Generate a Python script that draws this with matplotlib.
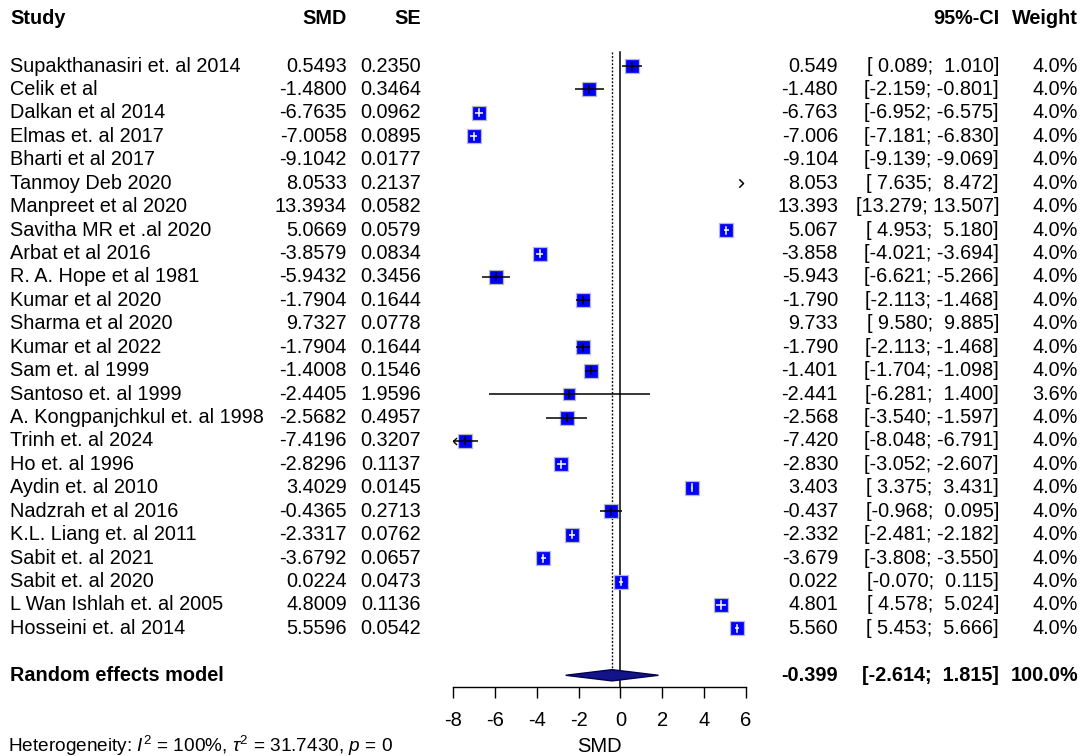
import matplotlib
matplotlib.use("Agg")
import matplotlib.pyplot as plt
import matplotlib.transforms as mtrans
from matplotlib.path import Path
import numpy as np

plt.rcParams['font.family'] = ['Liberation Sans', 'DejaVu Sans']
plt.rcParams['mathtext.fontset'] = 'custom'
plt.rcParams['mathtext.rm'] = 'Liberation Sans'
plt.rcParams['mathtext.it'] = 'Liberation Sans:italic'

studies = ["Supakthanasiri et. al 2014", "Celik et al", "Dalkan et al 2014", "Elmas et. al 2017",
           "Bharti et al 2017", "Tanmoy Deb 2020", "Manpreet et al 2020", "Savitha MR et .al 2020",
           "Arbat et al 2016", "R. A. Hope et al 1981", "Kumar et al 2020", "Sharma et al 2020",
           "Kumar et al 2022", "Sam et. al 1999", "Santoso et. al 1999", "A. Kongpanjchkul et. al 1998",
           "Trinh et. al 2024", "Ho et. al 1996", "Aydin et. al 2010", "Nadzrah et al 2016",
           "K.L. Liang et. al 2011", "Sabit et. al 2021", "Sabit et. al 2020", "L Wan Ishlah et. al 2005",
           "Hosseini et. al 2014"]
smd = [0.5493, -1.4800, -6.7635, -7.0058, -9.1042, 8.0533, 13.3934, 5.0669, -3.8579, -5.9432,
       -1.7904, 9.7327, -1.7904, -1.4008, -2.4405, -2.5682, -7.4196, -2.8296, 3.4029, -0.4365,
       -2.3317, -3.6792, 0.0224, 4.8009, 5.5596]
se = [0.2350, 0.3464, 0.0962, 0.0895, 0.0177, 0.2137, 0.0582, 0.0579, 0.0834, 0.3456,
      0.1644, 0.0778, 0.1644, 0.1546, 1.9596, 0.4957, 0.3207, 0.1137, 0.0145, 0.2713,
      0.0762, 0.0657, 0.0473, 0.1136, 0.0542]
est = [0.549, -1.480, -6.763, -7.006, -9.104, 8.053, 13.393, 5.067, -3.858, -5.943,
       -1.790, 9.733, -1.790, -1.401, -2.441, -2.568, -7.420, -2.830, 3.403, -0.437,
       -2.332, -3.679, 0.022, 4.801, 5.560]
ci_lo = [0.089, -2.159, -6.952, -7.181, -9.139, 7.635, 13.279, 4.953, -4.021, -6.621,
         -2.113, 9.580, -2.113, -1.704, -6.281, -3.540, -8.048, -3.052, 3.375, -0.968,
         -2.481, -3.808, -0.070, 4.578, 5.453]
ci_hi = [1.010, -0.801, -6.575, -6.830, -9.069, 8.472, 13.507, 5.180, -3.694, -5.266,
         -1.468, 9.885, -1.468, -1.098, 1.400, -1.597, -6.791, -2.607, 3.431, 0.095,
         -2.182, -3.550, 0.115, 5.024, 5.666]
weight = [4.0] * 14 + [3.6] + [4.0] * 10
arrow_right = ["Tanmoy Deb 2020"]

re_est, re_lo, re_hi, re_w = -0.399, -2.614, 1.815, 100.0
xticks = [-8, -6, -4, -2, 0, 2, 4, 6]
hetero = r"Heterogeneity: $I^2$ = 100%, $\tau^2$ = 31.7430, $p$ = 0"

W, H = 1085, 756
fig = plt.figure(figsize=(W / 100, H / 100), dpi=100)
ax = fig.add_axes([453 / W, (H - 687) / H, (746 - 453) / W, (687 - 52) / H])
ax.set_xlim(-8, 6)
ax.set_ylim(26.5, -0.6)
for s in ["top", "left", "right"]:
    ax.spines[s].set_visible(False)
ax.spines["bottom"].set_linewidth(1.0)
ax.set_yticks([])
ax.set_xticks(xticks)
ax.set_xticklabels([str(t) for t in xticks], fontsize=14.5)
ax.tick_params(axis="x", length=8, width=1.0, pad=9)
ax.set_xlabel("SMD", fontsize=14.5, labelpad=5)

n = len(studies)
rows = np.arange(n)
re_row = 26

# reference lines
ax.plot([0, 0], [-0.6, 26.5], color="black", lw=1.1, clip_on=False)
ax.plot([re_est, re_est], [-0.6, re_row - 0.25], color="black", lw=1.0, ls=(0, (1.3, 1.3)))

sq_side = 0.57  # box width in x units
chev = Path([(-1, 1), (0, 0), (-1, -1)], [Path.MOVETO, Path.LINETO, Path.LINETO])
chev_l = Path([(1, 1), (0, 0), (1, -1)], [Path.MOVETO, Path.LINETO, Path.LINETO])

for i in range(n):
    y = rows[i]
    lo, hi, e = ci_lo[i], ci_hi[i], est[i]
    inside = (hi - lo) < sq_side
    c = "white" if inside else "black"
    if hi > -8 and lo < 6:
        ax.plot([max(lo, -8), min(hi, 6)], [y, y], color=c, lw=1.1, zorder=4,
                solid_capstyle="butt")
        if lo < -8:
            ax.plot([-8], [y], marker=chev_l, ms=5, mfc="none", mec="black", mew=1.0,
                    clip_on=False, zorder=4)
    if studies[i] in arrow_right:
        ax.plot([5.85], [y], marker=chev, ms=6, mfc="none", mec="black", mew=1.1,
                clip_on=False, zorder=4)
    if -8 <= e <= 6:
        ms = 9.4 * np.sqrt(weight[i] / 4.0)
        ax.plot([e], [y], marker="s", ms=ms, mfc="#0000ff", mec="#b8b8c8", mew=0.9, zorder=3)
        ax.plot([e, e], [y - 0.15, y + 0.15], color=c, lw=1.1, zorder=4)

# diamond
dh = 0.24
ax.fill([re_lo, re_est, re_hi, re_est], [re_row, re_row - dh, re_row, re_row + dh],
        facecolor="#14148a", edgecolor="#000050", lw=1.0, zorder=3)

# text columns
tr = mtrans.blended_transform_factory(fig.transFigure, ax.transData)
fs = 14.3
def put(xpx, y, s, ha="left", bold=False, size=fs):
    ax.text(xpx / W, y, s, transform=tr, ha=ha, va="center", fontsize=size,
            fontweight="bold" if bold else "normal", clip_on=False)

hy = -2.05
put(10, hy, "Study", bold=True)
put(347, hy, "SMD", ha="right", bold=True)
put(421, hy, "SE", ha="right", bold=True)
put(999, hy, "95%-CI", ha="right", bold=True)
put(1078, hy, "Weight", ha="right", bold=True)

for i in range(n):
    y = rows[i]
    put(10, y, studies[i])
    put(347, y, f"{smd[i]:.4f}", ha="right")
    put(421, y, f"{se[i]:.4f}", ha="right")
    put(838, y, f"{est[i]:.3f}", ha="right")
    put(999, y, f"[{ci_lo[i]:6.3f}; {ci_hi[i]:6.3f}]", ha="right")
    put(1078, y, f"{weight[i]:.1f}%", ha="right")

put(10, re_row, "Random effects model", bold=True)
put(838, re_row, f"{re_est:.3f}", ha="right", bold=True)
put(999, re_row, f"[{re_lo:6.3f}; {re_hi:6.3f}]", ha="right", bold=True)
put(1078, re_row, f"{re_w:.1f}%", ha="right", bold=True)

put(8, 29.0, hetero, size=13.7)

fig.savefig("out.png", dpi=100)
